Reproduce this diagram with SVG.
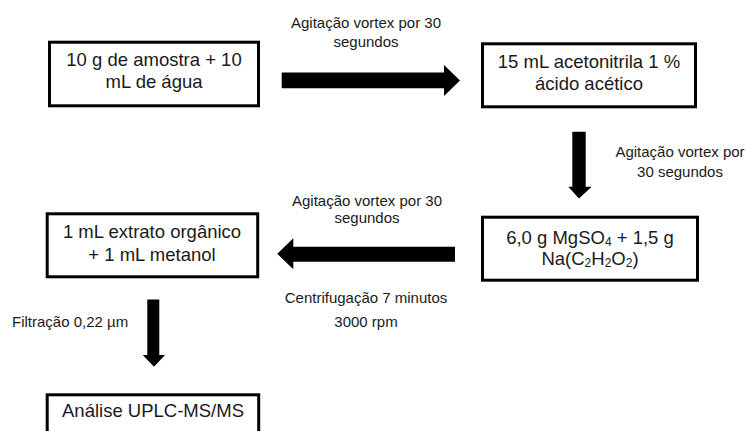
<svg xmlns="http://www.w3.org/2000/svg" width="747" height="431" viewBox="0 0 747 431">
<style>
  .box { fill: #ffffff; stroke: #000000; stroke-width: 3; }
  .bt { font-family: "Liberation Sans", Arial, sans-serif; font-size: 18.5px; fill: #1a1a1a; text-anchor: middle; }
  .lt { font-family: "Liberation Sans", Arial, sans-serif; font-size: 15px; fill: #1a1a1a; text-anchor: middle; }
  .arrow { fill: #000000; }
</style>
<rect width="747" height="431" fill="#ffffff"/>
<g id="node-amostra">
  <rect class="box" x="49.5" y="42.2" width="209" height="63.6"/>
  <text class="bt" x="154" y="66">10 g de amostra + 10</text>
  <text class="bt" x="154" y="88">mL de água</text>
</g>
<g id="node-acetonitrila">
  <rect class="box" x="482.5" y="43.8" width="213" height="63"/>
  <text class="bt" x="589" y="68">15 mL acetonitrila 1 %</text>
  <text class="bt" x="589" y="90">ácido acético</text>
</g>
<g id="node-sais">
  <rect class="box" x="482.5" y="217.2" width="215" height="63"/>
  <text class="bt" x="590" y="244">6,0 g MgSO<tspan font-size="12" dy="2">4</tspan><tspan dy="-2"> + 1,5 g</tspan></text>
  <text class="bt" x="590" y="265">Na(C<tspan font-size="12" dy="2">2</tspan><tspan dy="-2">H</tspan><tspan font-size="12" dy="2">2</tspan><tspan dy="-2">O</tspan><tspan font-size="12" dy="2">2</tspan><tspan dy="-2">)</tspan></text>
</g>
<g id="node-extrato">
  <rect class="box" x="47.2" y="213.8" width="210.5" height="63"/>
  <text class="bt" x="152" y="238">1 mL extrato orgânico</text>
  <text class="bt" x="152" y="261">+ 1 mL metanol</text>
</g>
<g id="node-analise">
  <rect class="box" x="47.2" y="394.8" width="211.5" height="60"/>
  <text class="bt" x="153" y="417">Análise UPLC-MS/MS</text>
</g>
<g id="connectors">
  <polygon class="arrow" points="281.7,72.5 444,72.5 444,65 460,80.5 444,96 444,88.3 281.7,88.3"/>
  <polygon class="arrow" points="572.3,131.7 585.7,131.7 585.7,186.7 591.7,186.7 579,198.5 568.3,186.7 572.3,186.7"/>
  <polygon class="arrow" points="455,246.7 293.3,246.7 293.3,238.3 277.3,253.8 293.3,269.3 293.3,261.7 455,261.7"/>
  <polygon class="arrow" points="147.3,299.5 159.3,299.5 159.3,355 165,355 154,366.7 142.7,355 147.3,355"/>
  <text class="lt" x="366" y="28">Agitação vortex por 30</text>
  <text class="lt" x="366" y="47">segundos</text>
  <text class="lt" x="680" y="157">Agitação vortex por</text>
  <text class="lt" x="680" y="177">30 segundos</text>
  <text class="lt" x="367" y="206">Agitação vortex por 30</text>
  <text class="lt" x="367" y="223">segundos</text>
  <text class="lt" x="366" y="303">Centrifugação 7 minutos</text>
  <text class="lt" x="366" y="327">3000 rpm</text>
  <text class="lt" x="12" y="327" text-anchor="start" style="text-anchor:start">Filtração 0,22 µm</text>
</g>
</svg>
